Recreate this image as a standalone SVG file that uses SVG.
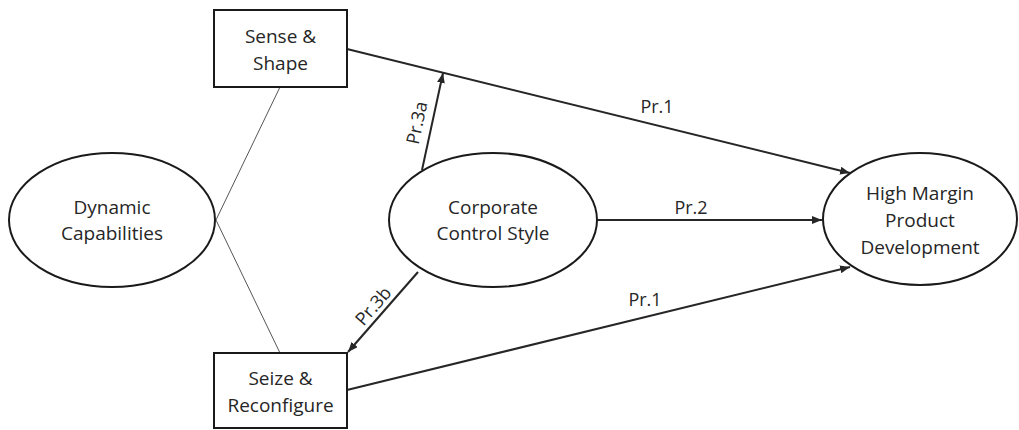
<svg xmlns="http://www.w3.org/2000/svg" width="1019" height="430" viewBox="0 0 1019 430">
<style>
.node{fill:#fff;stroke:#1a1a1a;stroke-width:2}
.t{font-family:"Open Sans","Liberation Sans",sans-serif;font-size:19px;fill:#262626;text-anchor:middle}
.lbl{font-family:"Open Sans","Liberation Sans",sans-serif;font-size:18px;fill:#262626;text-anchor:middle}
.c{stroke:#262626;stroke-width:2;fill:none}
.thin{stroke:#555;stroke-width:1;fill:none}
</style>
<defs>
<marker id="ah" markerUnits="userSpaceOnUse" markerWidth="10" markerHeight="8" refX="10" refY="4" orient="auto">
<path d="M0,0 L10,4 L0,8 Z" fill="#262626"/>
</marker>
</defs>
<rect width="1019" height="430" fill="#fff"/>
<g id="connectors">
<line class="thin" x1="280" y1="87" x2="216" y2="220"/>
<line class="thin" x1="216" y1="220" x2="280" y2="353"/>
<line class="c" x1="347" y1="49" x2="850" y2="173" marker-end="url(#ah)"/>
<line class="c" x1="422" y1="170" x2="443" y2="73" marker-end="url(#ah)"/>
<line class="c" x1="418" y1="272" x2="348" y2="352" marker-end="url(#ah)"/>
<line class="c" x1="597" y1="220" x2="822" y2="220" marker-end="url(#ah)"/>
<line class="c" x1="347" y1="390" x2="850" y2="267" marker-end="url(#ah)"/>
<text class="lbl" x="657" y="113">Pr.1</text>
<text class="lbl" x="691" y="214">Pr.2</text>
<text class="lbl" x="645" y="306">Pr.1</text>
<text class="lbl" transform="translate(423,124) rotate(-78)">Pr.3a</text>
<text class="lbl" transform="translate(378,310) rotate(-49)">Pr.3b</text>
</g>
<g id="sense">
<rect class="node" x="214" y="10" width="133" height="77"/>
<text class="t" x="280.5" y="43">Sense &amp;</text>
<text class="t" x="280.5" y="70">Shape</text>
</g>
<g id="seize">
<rect class="node" x="214" y="353" width="133" height="75"/>
<text class="t" x="280.5" y="385">Seize &amp;</text>
<text class="t" x="280.5" y="412">Reconfigure</text>
</g>
<g id="dynamic">
<ellipse class="node" cx="112" cy="220" rx="103" ry="67"/>
<text class="t" x="112" y="214">Dynamic</text>
<text class="t" x="112" y="240">Capabilities</text>
</g>
<g id="corporate">
<ellipse class="node" cx="493" cy="220" rx="104" ry="67"/>
<text class="t" x="493" y="214">Corporate</text>
<text class="t" x="493" y="240">Control Style</text>
</g>
<g id="highmargin">
<ellipse class="node" cx="920" cy="219" rx="97" ry="66"/>
<text class="t" x="920" y="200">High Margin</text>
<text class="t" x="920" y="227">Product</text>
<text class="t" x="920" y="254">Development</text>
</g>
</svg>
